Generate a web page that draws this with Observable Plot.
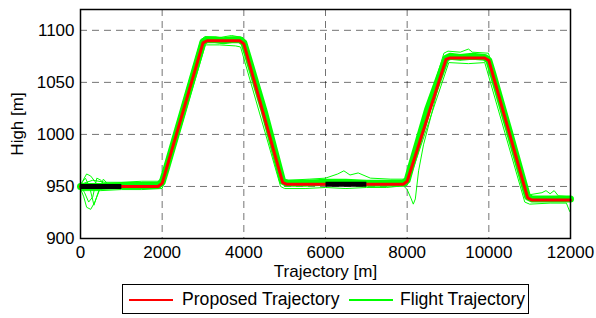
<!DOCTYPE html>
<html>
<head>
<meta charset="utf-8">
<script src="https://cdn.jsdelivr.net/npm/d3@7"></script>
<script src="https://cdn.jsdelivr.net/npm/@observablehq/plot@0.6"></script>
<style>
  body { margin: 0; background: #fff; }
  #wrap { position: relative; width: 596px; height: 318px; font-family: "Liberation Sans", Arial, sans-serif; }
  #legend { position: absolute; left: 122px; top: 284px; width: 405px; height: 28px; border: 1px solid #000; background: #fff; font-size: 17.6px; color: #000; }
  .sw { position: absolute; top: 14px; height: 2px; width: 44px; }
  .lb { position: absolute; top: 4px; white-space: nowrap; line-height: 20px; }
</style>
</head>
<body>
<div id="wrap"><div id="chart"></div><div id="legend"></div></div>
<script>
const xTicks = [0, 2000, 4000, 6000, 8000, 10000, 12000];
const yTicks = [900, 950, 1000, 1050, 1100];
const seriesNames = ["Proposed Trajectory", "Flight Trajectory"];
const seriesColors = ["#ff0000", "#00ff00"];

const proposedX = [0, 1900, 2000, 3000, 3100, 3900, 4000, 4950, 5050, 7900, 8000, 8950, 9050, 9900, 10000, 10950, 11050, 12000];
const proposedY = [950, 950, 953, 1088, 1090, 1090, 1087, 954, 952, 952, 955, 1072, 1073.5, 1073.5, 1071, 939, 937, 937];

const blackX1 = [0, 1000];
const blackY1 = [950, 950];
const blackX2 = [6000, 7000];
const blackY2 = [952, 952];

const flightMainX = [0, 500, 1000, 1500, 1900, 2000, 2100, 2500, 3000, 3100, 3300, 3500, 3700, 3900, 4000, 4100, 4500, 4950, 5050, 5500, 6000, 6500, 7000, 7500, 7900, 8000, 8100, 8500, 8950, 9050, 9300, 9600, 9900, 10000, 10100, 10500, 10950, 11050, 11500, 12000];
const flightMainY = [950, 950, 951, 951, 951, 954, 967, 1021, 1089, 1091, 1091, 1090, 1091, 1091, 1088, 1075, 1022, 955, 953, 953, 954, 954, 953, 953, 953, 956, 970, 1024, 1073, 1075, 1074, 1075, 1074, 1071, 1058, 1003, 940, 938, 938, 938];

const flightHighX = [0, 300, 600, 1000, 1500, 1900, 1980, 2950, 3050, 3400, 3700, 3980, 4060, 4990, 5100, 5600, 6000, 6300, 6450, 6600, 6800, 7100, 7600, 7950, 8900, 9000, 9300, 9500, 9600, 9990, 10060, 10990, 11300, 11400, 11500, 11600, 11700, 12000];
const flightHighY = [952, 956, 954, 954, 955, 955, 958, 1091, 1094, 1093, 1095, 1093, 1086, 957, 956, 957, 958, 962, 965, 961, 963, 958, 957, 957, 1078, 1080, 1079, 1082, 1079, 1078, 1069, 942, 944, 946, 943, 946, 941, 940];

const flightLowX = [0, 500, 1000, 1500, 2000, 2080, 3060, 3400, 3800, 3920, 4900, 5000, 5500, 6000, 6500, 7000, 7500, 8000, 8070, 9020, 9500, 9900, 10880, 11000, 11500, 11900, 11980];
const flightLowY = [946, 946, 947, 947, 948, 957, 1086, 1086, 1085, 1084, 950, 948, 948, 949, 948, 949, 949, 951, 958, 1069, 1068, 1069, 935, 933, 934, 934, 926];

const startAX = [0, 50, 150, 250, 350, 450, 600, 800, 1000];
const startAY = [950, 955, 962, 960, 955, 947, 952, 950, 951];
const startBX = [0, 80, 150, 250, 350, 450, 550, 700, 1000];
const startBY = [948, 940, 930, 928, 935, 945, 953, 950, 950];
const startCX = [0, 100, 200, 300, 400, 500, 650, 900];
const startCY = [951, 944, 935, 940, 958, 956, 948, 951];
const startDX = [0, 120, 220, 330, 430, 560, 750, 1100];
const startDY = [952, 958, 950, 932, 944, 957, 949, 952];

const dipX = [7500, 7900, 8000, 8100, 8150, 8200, 8280, 8400, 8600, 8900, 9000];
const dipY = [953, 951, 947, 938, 933, 938, 965, 990, 1020, 1068, 1073];

const zip = (xs, ys) => xs.map((x, i) => ({x, y: ys[i]}));

const thinTraces = [
  zip(flightHighX, flightHighY), zip(flightLowX, flightLowY),
  zip(startAX, startAY), zip(startBX, startBY), zip(startCX, startCY), zip(startDX, startDY),
  zip(dipX, dipY)
];

const gridStyle = {stroke: "#000", strokeOpacity: 0.55, strokeDasharray: "7,5", strokeWidth: 1};

const chart = Plot.plot({
  width: 596,
  height: 280,
  marginLeft: 80,
  marginRight: 26,
  marginTop: 9,
  marginBottom: 42,
  x: {domain: [0, 12000]},
  y: {domain: [900, 1120]},
  style: {fontFamily: "'Liberation Sans', Arial, sans-serif", fontSize: "17px", color: "#000", background: "#fff"},
  marks: [
    Plot.gridX(xTicks, gridStyle),
    Plot.gridY(yTicks, gridStyle),
    Plot.line(zip(flightMainX, flightMainY), {x: "x", y: "y", stroke: seriesColors[1], strokeWidth: 7}),
    ...thinTraces.map(t => Plot.line(t, {x: "x", y: "y", stroke: seriesColors[1], strokeWidth: 1})),
    Plot.line(zip(proposedX, proposedY), {x: "x", y: "y", stroke: seriesColors[0], strokeWidth: 3}),
    Plot.line(zip(blackX1, blackY1), {x: "x", y: "y", stroke: "#000", strokeWidth: 5, strokeLinecap: "butt"}),
    Plot.line(zip(blackX2, blackY2), {x: "x", y: "y", stroke: "#000", strokeWidth: 5, strokeLinecap: "butt"}),
    Plot.frame({stroke: "#000", strokeWidth: 1.5}),
    Plot.axisX(xTicks, {tickSize: 0, tickPadding: 7, tickFormat: d => String(d), label: "Trajectory [m]", labelAnchor: "center", labelOffset: 38, labelArrow: "none"}),
    Plot.axisY(yTicks, {tickSize: 0, tickPadding: 6, tickFormat: d => String(d), label: "High [m]", labelAnchor: "center", labelOffset: 70, labelArrow: "none"})
  ]
});
document.getElementById("chart").appendChild(chart);

const legend = document.getElementById("legend");
const swLeft = [6, 226];
const lbLeft = [59, 277];
seriesNames.forEach((name, i) => {
  const sw = document.createElement("div");
  sw.className = "sw";
  sw.style.left = swLeft[i] + "px";
  sw.style.background = seriesColors[i];
  legend.appendChild(sw);
  const lb = document.createElement("div");
  lb.className = "lb";
  lb.style.left = lbLeft[i] + "px";
  lb.textContent = name;
  legend.appendChild(lb);
});
</script>
</body>
</html>
